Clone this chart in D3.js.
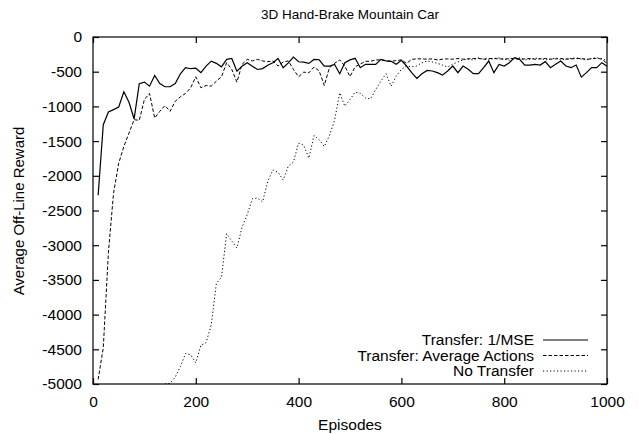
<!DOCTYPE html>
<html>
<head>
<meta charset="utf-8">
<script src="https://cdn.jsdelivr.net/npm/d3@7.9.0/dist/d3.min.js"></script>
<style>
  body { margin: 0; background: #fff; }
  svg { font-family: "Liberation Sans", Arial, Helvetica, sans-serif; }
</style>
</head>
<body>
<svg width="639" height="434"></svg>
<script>
// episodes sampled every 10
const episodes = d3.range(10, 1001, 10);

const mseReward = [
  -2280, -1264, -1080, -1046, -1008, -790, -940, -1181, -674, -650,
  -708, -553, -670, -717, -717, -670, -530, -442, -457, -450,
  -515, -420, -348, -380, -430, -323, -310, -493, -420, -372,
  -420, -468, -455, -407, -372, -310, -442, -372, -290, -357,
  -362, -380, -323, -328, -420, -420, -396, -530, -370, -330,
  -307, -442, -394, -394, -394, -322, -343, -350, -394, -336,
  -418, -514, -597, -529, -481, -490, -514, -549, -490, -418,
  -514, -418, -465, -529, -529, -442, -346, -514, -394, -418,
  -370, -297, -322, -404, -404, -394, -404, -355, -442, -394,
  -346, -418, -442, -404, -578, -514, -442, -442, -370, -420
];

const avgActionsReward = [
  -4935, -4480, -3100, -2250, -1820, -1578, -1384, -1191, -1201, -901,
  -814, -1167, -1071, -988, -1071, -926, -862, -814, -732, -573,
  -732, -699, -708, -636, -573, -370, -467, -650, -394, -322,
  -345, -322, -345, -355, -345, -418, -360, -345, -467, -573,
  -506, -516, -433, -490, -699, -442, -380, -330, -420, -570,
  -430, -390, -350, -350, -330, -330, -340, -350, -340, -330,
  -380, -322, -315, -315, -320, -315, -330, -320, -315, -320,
  -310, -320, -315, -310, -310, -320, -310, -310, -315, -320,
  -310, -315, -320, -315, -310, -320, -315, -310, -320, -315,
  -310, -320, -315, -310, -310, -320, -315, -305, -320, -380
];

// no-transfer curve only climbs off the floor after ~140 episodes
const noTransferEpisodes = d3.range(140, 1001, 10);
const noTransferReward = [
  -5000, -4990, -4900, -4750, -4560, -4580, -4694, -4440, -4404, -4150,
  -3550, -3462, -2833, -2940, -3040, -2740, -2560, -2330, -2320, -2375,
  -2080, -1916, -1950, -2061, -1860, -1800, -1529, -1560, -1746, -1420,
  -1480, -1578, -1420, -1200, -804, -998, -900, -795, -810, -880,
  -890, -757, -636, -529, -708, -563, -467, -418, -430, -418,
  -370, -346, -360, -380, -404, -433, -390, -360, -330, -320,
  -330, -300, -320, -330, -310, -300, -320, -335, -310, -300,
  -330, -320, -305, -310, -330, -320, -300, -330, -315, -310,
  -300, -320, -330, -310, -300, -310, -340
];

const xTicks = [0, 200, 400, 600, 800, 1000];
const yTicks = [0, -500, -1000, -1500, -2000, -2500, -3000, -3500, -4000, -4500, -5000];

const series = [
  {name: "Transfer: 1/MSE", x: episodes, y: mseReward, dash: null, width: 1.2},
  {name: "Transfer: Average Actions", x: episodes, y: avgActionsReward, dash: "3.5,2", width: 1},
  {name: "No Transfer", x: noTransferEpisodes, y: noTransferReward, dash: "1.2,2.3", width: 1}
];

const svg = d3.select("svg"),
      margin = {top: 37, right: 32, bottom: 50, left: 93},
      width = +svg.attr("width") - margin.left - margin.right,
      height = +svg.attr("height") - margin.top - margin.bottom,
      g = svg.append("g").attr("transform", `translate(${margin.left},${margin.top})`);

const x = d3.scaleLinear().domain([0, 1000]).range([0, width]);
const y = d3.scaleLinear().domain([-5000, 0]).range([height, 0]);

svg.append("defs").append("clipPath").attr("id", "plot-clip")
  .append("rect").attr("width", width).attr("height", height);

// axes: ticks point inward, mirrored on top and right
const tickLen = 6;
const plain = d => String(d);   // keep ascii hyphen, no thousands comma
const axisB = g.append("g").attr("transform", `translate(0,${height})`)
  .call(d3.axisBottom(x).tickValues(xTicks).tickFormat(plain).tickSizeInner(-tickLen).tickSizeOuter(0).tickPadding(12));
const axisT = g.append("g")
  .call(d3.axisTop(x).tickValues(xTicks).tickSizeInner(-tickLen).tickSizeOuter(0).tickFormat(""));
const axisL = g.append("g")
  .call(d3.axisLeft(y).tickValues(yTicks).tickFormat(plain).tickSizeInner(-tickLen).tickSizeOuter(0).tickPadding(11));
const axisR = g.append("g").attr("transform", `translate(${width},0)`)
  .call(d3.axisRight(y).tickValues(yTicks).tickSizeInner(-tickLen).tickSizeOuter(0).tickFormat(""));

[axisB, axisT, axisL, axisR].forEach(a => {
  a.selectAll(".domain").remove();
  a.selectAll(".tick line").attr("stroke", "#000").attr("stroke-width", 1.2);
  a.selectAll(".tick text").attr("fill", "#000").style("font-size", "15.5px").style("font-family", "Liberation Sans, Arial, sans-serif");
});

g.append("rect")
  .attr("width", width).attr("height", height)
  .attr("fill", "none").attr("stroke", "#000").attr("stroke-width", 1.2);

// lines
const line = d3.line().x(d => x(d[0])).y(d => y(d[1]));
const plot = g.append("g").attr("clip-path", "url(#plot-clip)");
series.forEach(s => {
  plot.append("path")
    .datum(s.x.map((e, i) => [e, s.y[i]]))
    .attr("fill", "none")
    .attr("stroke", "#000")
    .attr("stroke-width", s.width)
    .attr("stroke-dasharray", s.dash)
    .attr("d", line);
});

// legend
const legend = g.append("g").attr("transform", `translate(${534 - margin.left},${340 - margin.top})`);
series.forEach((s, i) => {
  const row = legend.append("g").attr("transform", `translate(0,${i * 15.5})`);
  row.append("text")
    .attr("text-anchor", "end")
    .attr("dy", "0.35em")
    .style("font-size", "15.5px")
    .text(s.name);
  row.append("line")
    .attr("x1", 9).attr("x2", 54)
    .attr("stroke", "#000")
    .attr("stroke-width", s.width)
    .attr("stroke-dasharray", s.dash);
});

// titles
svg.append("text")
  .attr("x", 350).attr("y", 19)
  .attr("text-anchor", "middle")
  .style("font-size", "13.5px")
  .text("3D Hand-Brake Mountain Car");

svg.append("text")
  .attr("x", 350).attr("y", 430)
  .attr("text-anchor", "middle")
  .style("font-size", "15.5px")
  .text("Episodes");

svg.append("text")
  .attr("transform", "rotate(-90)")
  .attr("x", -211).attr("y", 24)
  .attr("text-anchor", "middle")
  .style("font-size", "15px")
  .text("Average Off-Line Reward");
</script>
</body>
</html>
